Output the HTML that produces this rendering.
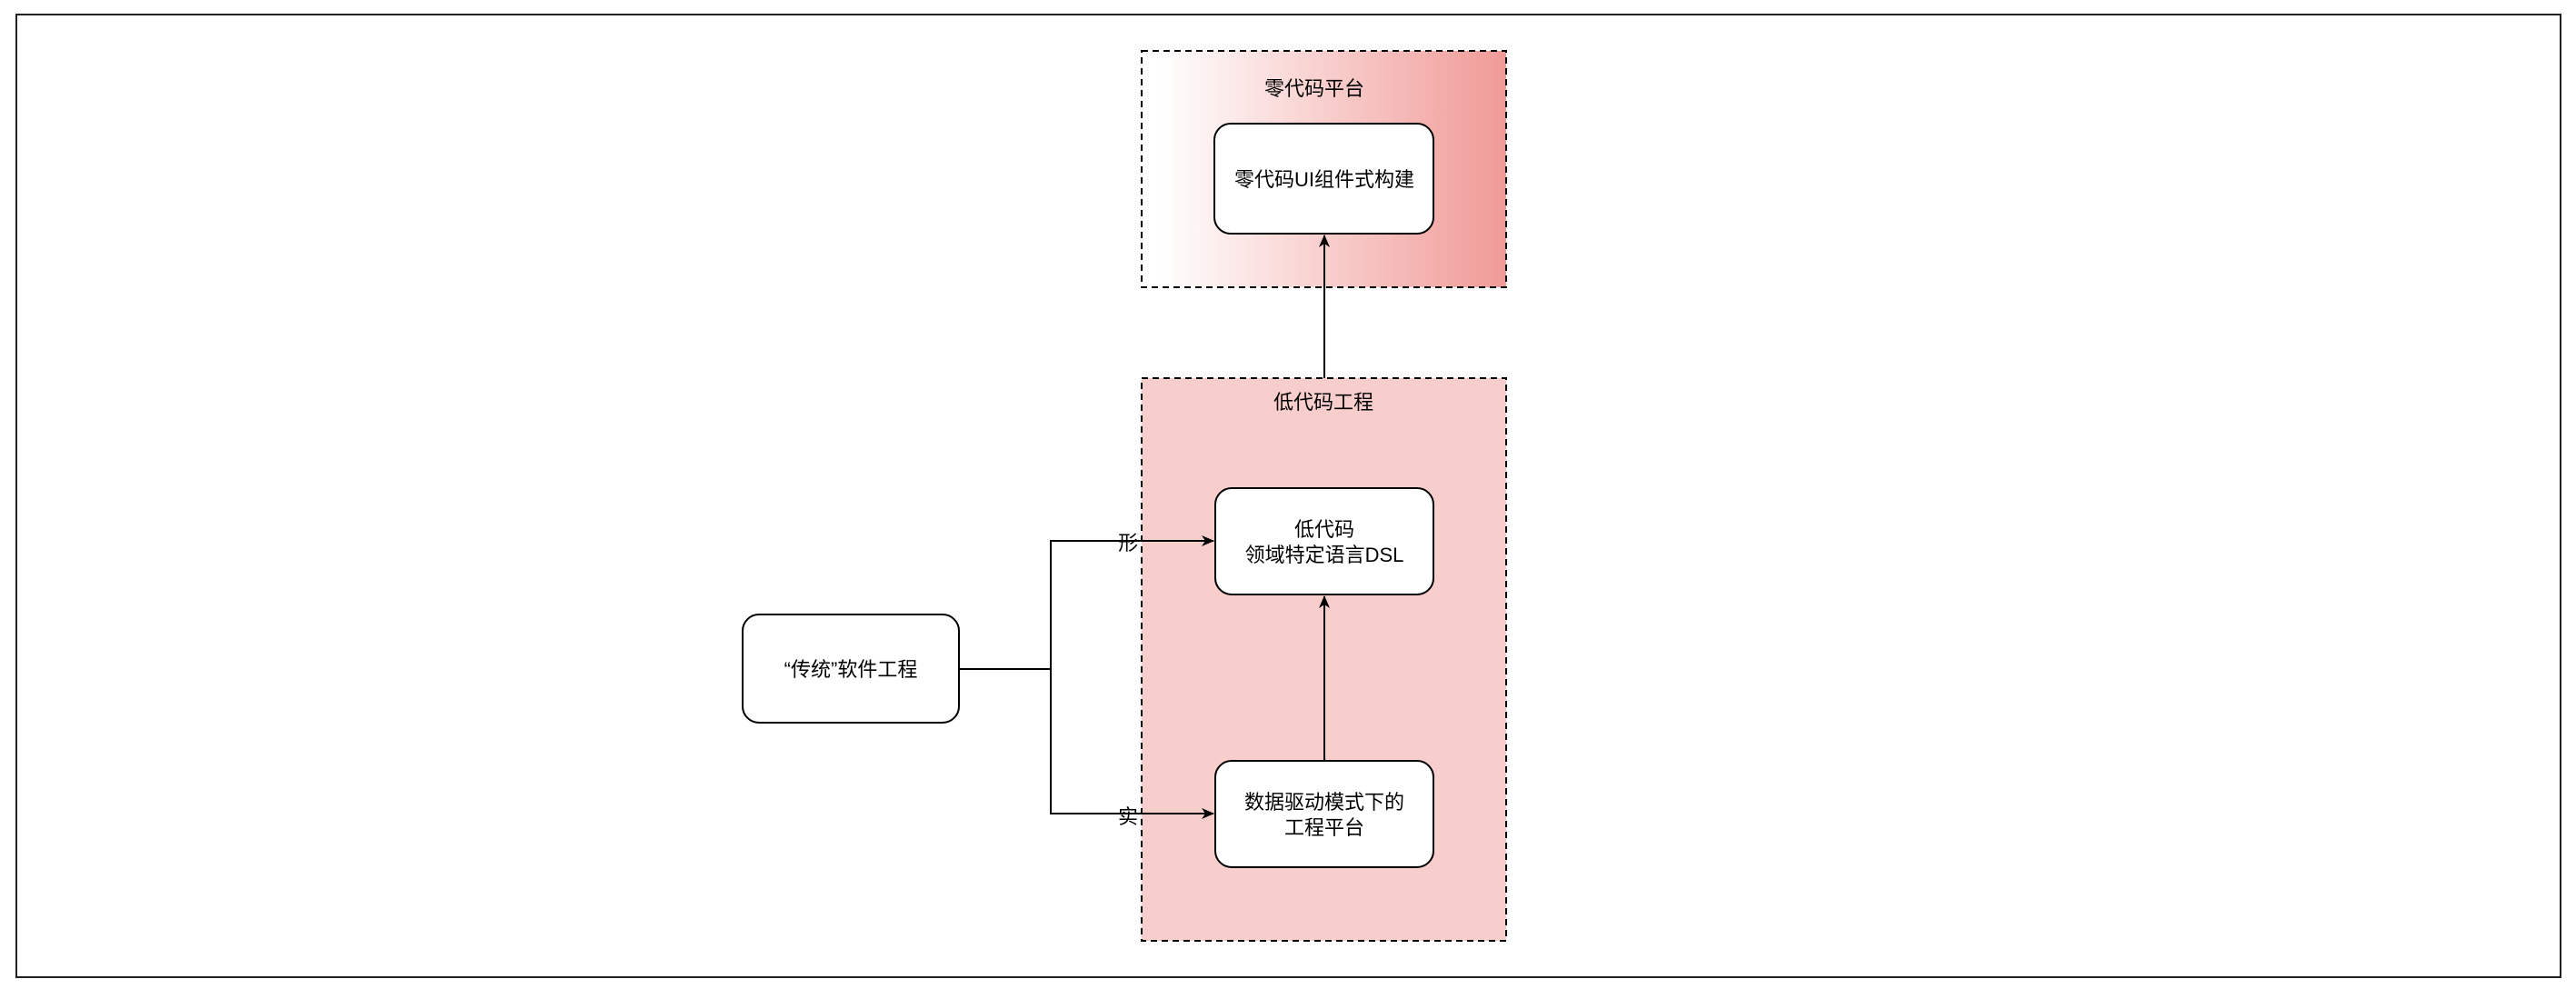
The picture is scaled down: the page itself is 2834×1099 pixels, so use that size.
<!DOCTYPE html>
<html><head><meta charset="utf-8"><style>
body{margin:0;background:#fff;}
svg text{font-family:"Liberation Sans","Noto Sans CJK SC",sans-serif;font-size:22px;fill:#000;text-anchor:middle;}
</style></head><body>
<svg width="2834" height="1094" xmlns="http://www.w3.org/2000/svg">
<defs>
<linearGradient id="g" x1="0" x2="1" y1="0" y2="0">
<stop offset="0.05" stop-color="#ffffff"/><stop offset="1" stop-color="#f09a97"/>
</linearGradient>
<marker id="a" markerWidth="14" markerHeight="12" refX="13" refY="6" orient="auto" markerUnits="userSpaceOnUse">
<path d="M0,0 L14,6 L0,12 L4,6 Z" fill="#000"/>
</marker>
</defs>
<rect x="18" y="16" width="2799" height="1059" fill="#fff" stroke="#222" stroke-width="2"/>
<rect x="1256" y="56" width="401" height="260" fill="url(#g)" stroke="#000" stroke-width="2" stroke-dasharray="7,5"/>
<text x="1446" y="105">零代码平台</text>
<rect x="1336" y="136" width="241" height="121" rx="18" fill="#fff" stroke="#000" stroke-width="2"/>
<text x="1457" y="205">零代码UI组件式构建</text>
<rect x="1256" y="416" width="401" height="619" fill="#f8cecc" stroke="#000" stroke-width="2" stroke-dasharray="7,5"/>
<text x="1456" y="450">低代码工程</text>
<line x1="1457" y1="416" x2="1457" y2="259" stroke="#000" stroke-width="2" marker-end="url(#a)"/>
<rect x="1337" y="537" width="240" height="117" rx="18" fill="#fff" stroke="#000" stroke-width="2"/>
<text x="1457" y="590">低代码</text>
<text x="1457" y="618">领域特定语言DSL</text>
<rect x="1337" y="837" width="240" height="117" rx="18" fill="#fff" stroke="#000" stroke-width="2"/>
<text x="1457" y="890">数据驱动模式下的</text>
<text x="1457" y="918">工程平台</text>
<line x1="1457" y1="837" x2="1457" y2="656" stroke="#000" stroke-width="2" marker-end="url(#a)"/>
<rect x="817" y="676" width="238" height="119" rx="18" fill="#fff" stroke="#000" stroke-width="2"/>
<text x="936" y="744">“传统”软件工程</text>
<polyline points="1055,736 1156,736 1156,595 1335,595" fill="none" stroke="#000" stroke-width="2" marker-end="url(#a)"/>
<polyline points="1055,736 1156,736 1156,895 1335,895" fill="none" stroke="#000" stroke-width="2" marker-end="url(#a)"/>
<text x="1241" y="605">形</text>
<text x="1241" y="906">实</text>
</svg>
</body></html>
